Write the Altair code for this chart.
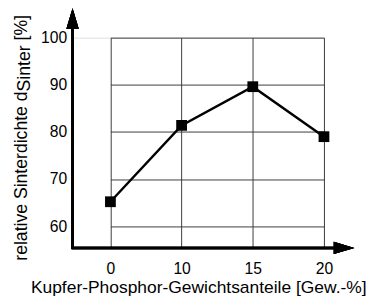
import altair as alt
import pandas as pd

gehalt = ["0", "10", "15", "20"]
dichte = [65.2, 81.4, 89.6, 79.0]
y_ticks = [60, 70, 80, 90, 100]

x_title = "Kupfer-Phosphor-Gewichtsanteile [Gew.-%]"
y_title_main = "relative Sinterdichte d"
y_title_sub = "Sinter"
y_title_end = "[%]"

df = pd.DataFrame({"gehalt": gehalt, "dichte": dichte})

W, H = 257, 215
FONT = "Liberation Sans"
GRID = "#3a3a3a"

x_enc = alt.X(
    "gehalt:O",
    sort=gehalt,
    scale=alt.Scale(type="point", range=[38.7, 257], padding=0),
    axis=alt.Axis(
        title=None,
        labelAngle=0, ticks=False, domain=False,
        grid=True, gridColor=GRID, gridWidth=1, gridOpacity=1,
        labelFont=FONT, labelFontSize=16, labelColor="black", labelPadding=13,
    ),
)
y_enc = alt.Y(
    "dichte:Q",
    scale=alt.Scale(domain=[55.4, 100], nice=False, zero=False),
    axis=alt.Axis(
        title=None,
        values=y_ticks, ticks=False, domain=False,
        grid=True, gridColor=GRID, gridWidth=1, gridOpacity=1,
        labelFont=FONT, labelFontSize=16, labelColor="black", labelPadding=6,
    ),
)

line = alt.Chart(df).mark_line(color="black", strokeWidth=2.5).encode(x=x_enc, y=y_enc)
pts = alt.Chart(df).mark_point(shape="square", filled=True, size=121, color="black", opacity=1).encode(
    x=alt.X("gehalt:O", sort=gehalt), y="dichte:Q"
)

axis_y = alt.Chart(df).mark_rule(color="black", strokeWidth=2.5).encode(
    x=alt.value(0), y=alt.value(H + 1), y2=alt.value(-25)
)
axis_x = alt.Chart(df).mark_rule(color="black", strokeWidth=2.5).encode(
    x=alt.value(-1), x2=alt.value(280), y=alt.value(H)
)
arrow_y = alt.Chart(df).mark_point(
    shape="M0,-1L0.6,1L-0.6,1Z", filled=True, size=441, color="black", opacity=1
).encode(x=alt.value(0), y=alt.value(-19.5))
arrow_x = alt.Chart(df).mark_point(
    shape="M1,0L-1,0.6L-1,-0.6Z", filled=True, size=441, color="black", opacity=1
).encode(x=alt.value(277.5), y=alt.value(H))

one = pd.DataFrame({"k": [0]})
xt = alt.Chart(one).mark_text(
    font=FONT, fontSize=17.8, color="black", align="center", baseline="alphabetic"
).encode(x=alt.value(W / 2 + 0.5), y=alt.value(H + 46), text=alt.value(x_title))

YF = 18
w_main = 9.615 * YF
w_sub = 2.612 * YF
w_space = 0.278 * YF
y0 = 228
yt1 = alt.Chart(one).mark_text(
    font=FONT, fontSize=YF, color="black", align="left", baseline="alphabetic", angle=270
).encode(x=alt.value(-47), y=alt.value(y0), text=alt.value(y_title_main))
yt2 = alt.Chart(one).mark_text(
    font=FONT, fontSize=YF, color="black", align="left", baseline="alphabetic", angle=270
).encode(x=alt.value(-43), y=alt.value(y0 - w_main), text=alt.value(y_title_sub))
yt3 = alt.Chart(one).mark_text(
    font=FONT, fontSize=YF, color="black", align="left", baseline="alphabetic", angle=270
).encode(x=alt.value(-47), y=alt.value(y0 - w_main - w_sub - w_space), text=alt.value(y_title_end))

chart = alt.layer(line, pts, axis_y, axis_x, arrow_y, arrow_x, xt, yt1, yt2, yt3).properties(
    width=W, height=H,
    autosize=alt.AutoSizeParams(type="none"),
    padding={"left": 66, "top": 27, "right": 44, "bottom": 55},
).configure_view(stroke=None).configure(background="white")

chart.save("out.html", embed_options={"renderer": "svg", "actions": False})
